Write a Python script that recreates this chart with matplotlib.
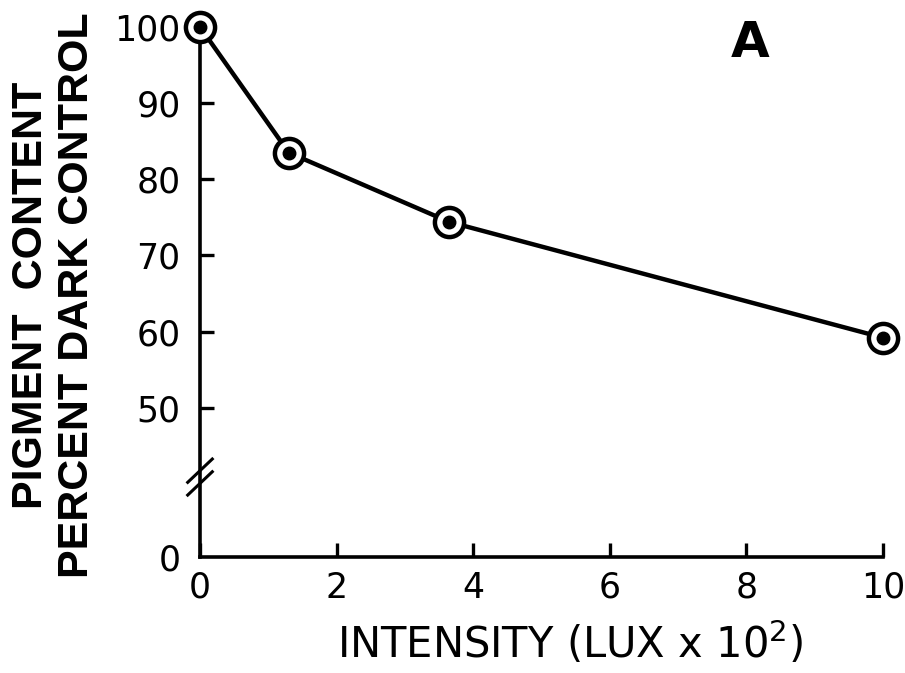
import numpy as np
import matplotlib.pyplot as plt

# readings taken off the figure
intensity = [0, 1.3, 3.65, 10]
pigment = [100, 83.5, 74.4, 59.2]
xticks = [0, 2, 4, 6, 8, 10]
yticks = [0, 50, 60, 70, 80, 90, 100]

# broken y axis: values below 40 get squeezed into a short stub
def fwd(y):
    y = np.asarray(y, dtype=float)
    return np.where(y >= 40, y, 30.4 + 0.24 * y)

def inv(v):
    v = np.asarray(v, dtype=float)
    return np.where(v >= 40, v, (v - 30.4) / 0.24)

fig = plt.figure(figsize=(9.05, 6.73), dpi=100)
ax = fig.add_axes([200 / 905, 1 - 557 / 673, 683 / 905, 530 / 673])

ax.set_yscale('function', functions=(fwd, inv))
ax.set_xlim(0, 10)
ax.set_ylim(0, 100)

ax.plot(intensity, pigment, color='black', lw=3.2, zorder=3, clip_on=False)
ax.plot(intensity, pigment, 'o', ms=21, mfc='white', mec='black', mew=3.2,
        zorder=4, clip_on=False)
ax.plot(intensity, pigment, 'o', ms=9, color='black', zorder=5, clip_on=False)

for s in ['top', 'right']:
    ax.spines[s].set_visible(False)
for s in ['left', 'bottom']:
    ax.spines[s].set_linewidth(2.6)

ax.set_xticks(xticks)
ax.set_yticks(yticks)
ax.set_xticklabels([str(t) for t in xticks])
ax.set_yticklabels([str(t) for t in yticks])
ax.tick_params(direction='in', length=10, width=2.4, labelsize=25, pad=10)
ax.tick_params(axis='y', pad=14)
ax.yaxis.get_major_ticks()[0].tick1line.set_visible(False)

# break marks on the y spine
ybreak = fwd(40.9)
ylo, yhi = fwd(0), fwd(100)
yb = (ybreak - ylo) / (yhi - ylo)
for dy in (-0.012, 0.012):
    ax.plot([-0.018, 0.018], [yb + dy - 0.022, yb + dy + 0.022],
            transform=ax.transAxes, color='black', lw=2.2, clip_on=False)

fig.text(54 / 905, 1 - 295 / 673, 'PIGMENT  CONTENT\nPERCENT DARK CONTROL',
         rotation=90, ha='center', va='center', fontsize=31,
         fontweight='bold', family='Liberation Sans', linespacing=1.2)
fig.text(570 / 905, 1 - 643 / 673, r'INTENSITY (LUX x 10$^{\mathregular{2}}$)',
         ha='center', va='center', fontsize=30, family='DejaVu Sans')
fig.text(750 / 905, 1 - 43 / 673, 'A', ha='center', va='center',
         fontsize=36, fontweight='bold', family='DejaVu Sans')

fig.savefig('out.png', dpi=100)
